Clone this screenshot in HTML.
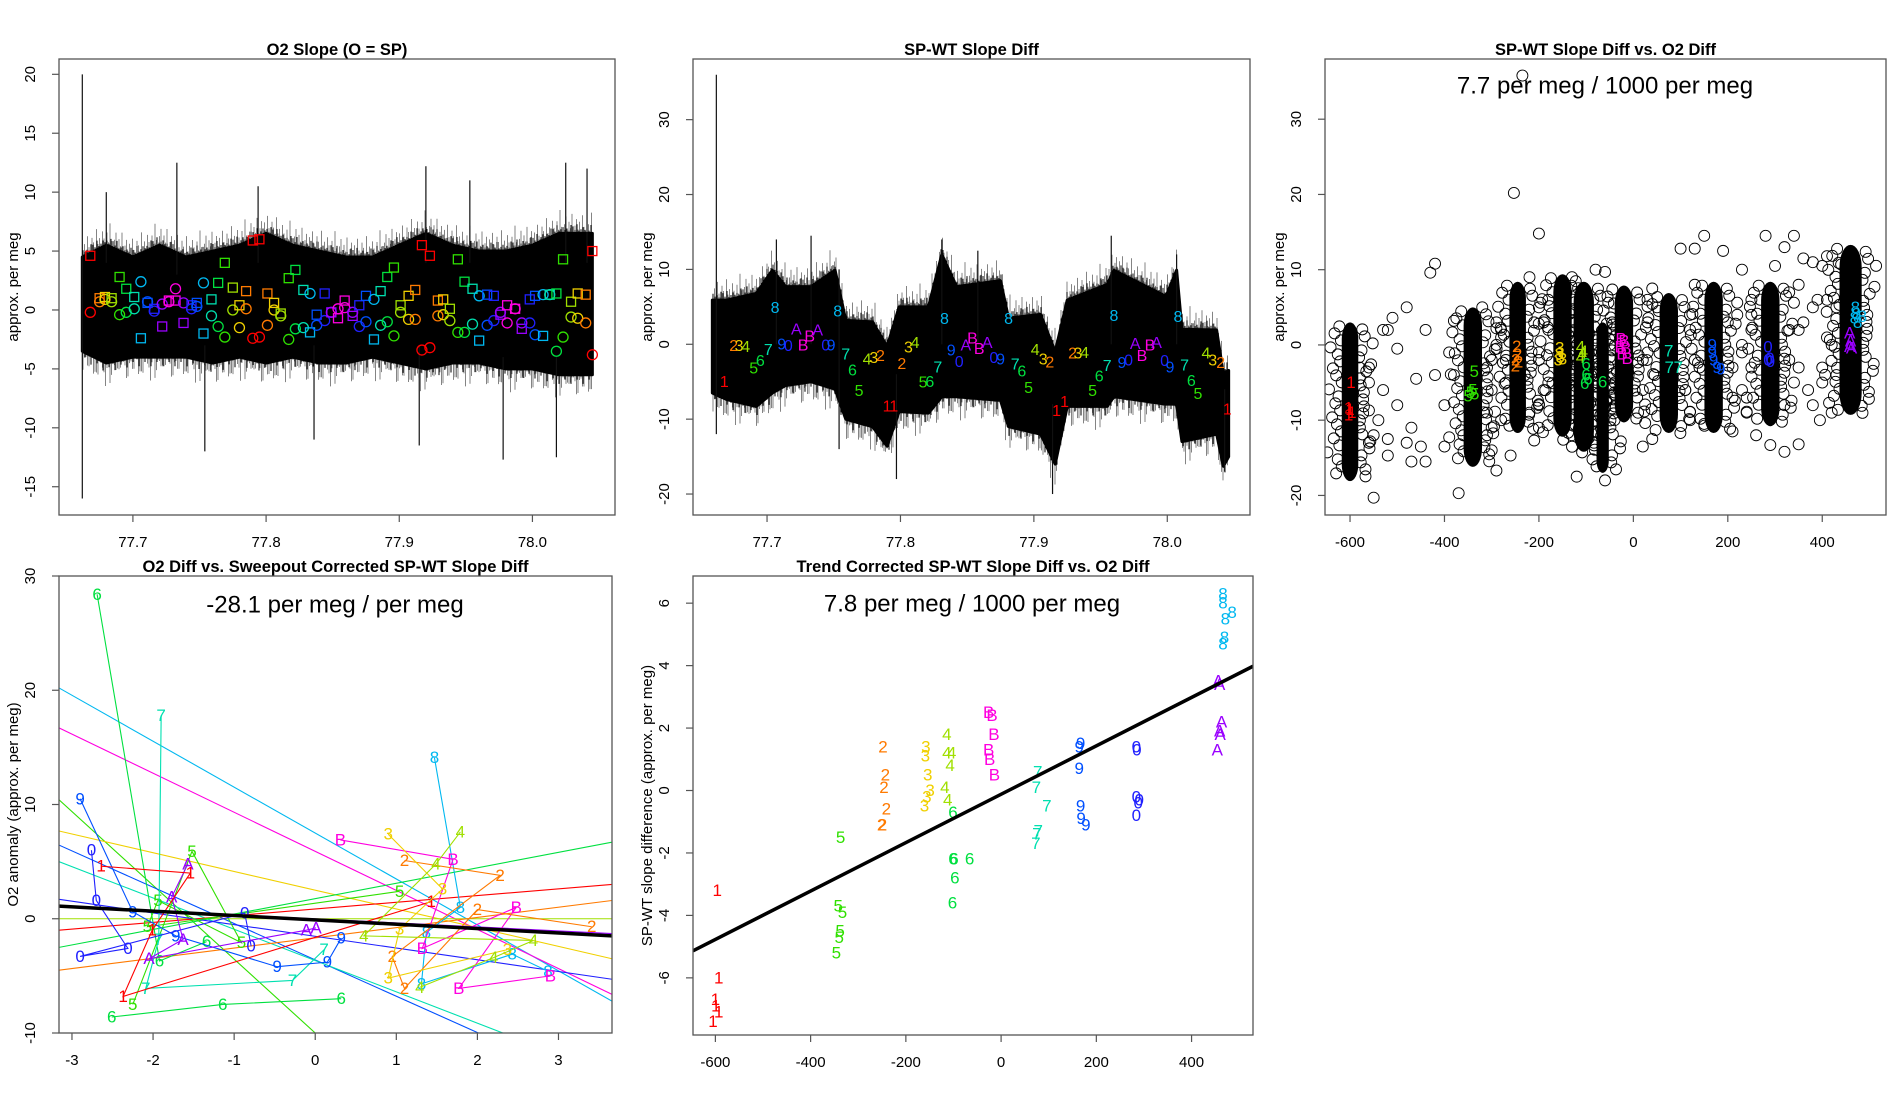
<!DOCTYPE html>
<html><head><meta charset="utf-8"><title>Slope diagnostics</title>
<style>
html,body{margin:0;padding:0;background:#fff;width:1900px;height:1100px;overflow:hidden;}
svg{display:block;font-family:"Liberation Sans",sans-serif;}
</style></head>
<body>
<svg id="chart" xmlns="http://www.w3.org/2000/svg" width="1900" height="1100" viewBox="0 0 1900 1100" overflow="hidden">
<rect x="0" y="0" width="1900" height="1100" fill="#fff"/>
</svg>
<script>
// ---------- shared data ----------
const labelSeq = ["1","2","3","4","5","6","7","8","9","0","A","B","B","A","0","9","8","7","6","5","4","3","2","1",
"1","2","3","4","5","6","7","8","9","0","A","B","B","A","0","9","8","7","6","5","4","3","2","1",
"1","2","3","4","5","6","7","8","9","0","A","B","B","A","0","9","8","7","6","5","4","3","2","1"];
const labelTimes = [77.668,77.675,77.679,77.684,77.690,77.695,77.701,77.706,77.711,77.716,77.722,77.727,77.732,77.738,77.744,77.748,77.753,77.759,77.764,77.769,77.775,77.780,77.785,77.790,
77.795,77.801,77.806,77.811,77.817,77.822,77.828,77.833,77.838,77.844,77.849,77.854,77.859,77.865,77.870,77.875,77.881,77.886,77.891,77.896,77.901,77.907,77.912,77.917,
77.923,77.929,77.933,77.938,77.944,77.949,77.955,77.960,77.966,77.971,77.976,77.981,77.987,77.992,77.998,78.002,78.008,78.013,78.018,78.023,78.029,78.034,78.040,78.045];
const sqValues = [4.6,1.0,1.1,1.0,2.8,1.8,1.1,-2.4,0.6,0.1,-1.4,0.8,0.8,-1.1,0.4,0.6,-2.0,0.9,2.3,4.0,1.9,0.4,1.6,5.9,
6.0,1.4,0.6,-0.3,2.7,3.4,1.7,-1.9,-0.4,1.4,-0.2,-0.7,0.8,-0.5,0.4,1.2,-2.5,1.6,2.8,3.6,0.4,1.2,1.7,5.5,
4.6,0.8,0.9,0.1,4.3,2.4,1.8,-2.6,1.3,1.2,-0.4,0.4,0.1,-1.6,0.9,1.2,-2.2,1.3,1.4,4.3,0.7,1.4,1.3,5.0];
const ciValues = [-0.2,0.7,0.9,0.7,-0.4,-0.2,0.1,2.4,0.7,-0.1,0.5,0.7,1.8,0.6,0.1,0.3,2.3,-0.5,-1.4,-2.3,0.0,-1.5,0.1,-2.4,
-2.3,-1.3,0.0,-0.5,-2.5,-1.6,-1.5,1.4,-1.3,-0.9,-0.2,0.1,0.2,-0.2,-1.4,-1.0,0.9,-1.3,-1.0,-2.2,-0.2,-0.8,-0.8,-3.4,
-3.2,-0.5,-0.4,-0.9,-1.9,-1.9,-1.2,1.2,-1.3,-0.9,-0.2,-1.1,0.1,-1.1,-1.1,-2.1,1.3,1.3,-3.5,-2.3,-0.6,-0.7,-1.1,-3.8];
const env1Times = [77.662,77.68,77.70,77.72,77.74,77.76,77.78,77.80,77.82,77.84,77.86,77.88,77.90,77.92,77.94,77.96,77.98,78.00,78.02,78.045];
const env1Top = [4.5,5.5,4.5,5.5,4.5,5,5.5,6.5,5.5,5,4.5,4.5,5.5,6.5,5.5,5,5,5.5,6.5,6.5];
const env1Bot = [-3.5,-4.5,-4,-4,-4,-4.5,-4,-4.5,-4,-4.5,-4.5,-4,-4.5,-5,-4.5,-4.5,-5,-5,-5.5,-5.5];
const spike1Times = [77.662,77.68,77.733,77.754,77.794,77.836,77.915,77.92,77.953,77.978,78.018,78.025,78.041];
const spike1Lo = [-16,4,3,-12,4,-11,-11.5,4,4,-12.7,-12.5,4,4];
const spike1Hi = [20,10,12.5,-3,10.5,-3,-3,12.2,11,-4,-4,12.5,12];
const label2Values = [-5.1,-0.3,-0.3,-0.4,-3.3,-2.3,-0.8,4.8,-0.1,-0.3,1.9,-0.2,1.0,1.8,-0.2,-0.2,4.3,-1.4,-3.6,-6.3,-2.1,-1.9,-1.6,-8.4,
-8.4,-2.7,-0.5,0.1,-5.2,-5.1,-3.2,3.3,-0.9,-2.4,-0.2,0.7,-0.7,0.1,-1.9,-2.1,3.3,-2.8,-3.7,-5.9,-0.8,-2.1,-2.5,-9.0,
-7.8,-1.3,-1.3,-1.2,-6.3,-4.4,-3.0,3.7,-2.6,-2.2,0.0,-1.6,-0.2,0.1,-2.3,-3.2,3.6,-2.9,-5.0,-6.7,-1.3,-2.2,-2.6,-8.8];
const env2Times = [77.659,77.670,77.692,77.704,77.714,77.733,77.751,77.759,77.779,77.790,77.799,77.821,77.831,77.842,77.875,77.881,77.905,77.916,77.925,77.955,77.960,77.999,78.007,78.011,78.037,78.042,78.046];
const env2Top = [5.9,5.9,6.8,9.9,7.7,7.7,9.9,3.2,3.0,-0.3,5.0,5.0,12.0,7.7,8.5,3.5,4.0,-1.0,5.9,8.0,9.9,6.4,9.9,2.0,1.9,-3.9,-3.5];
const env2Bot = [-6.5,-7.4,-8.3,-6.5,-5.5,-5.0,-6.0,-10,-11,-13.6,-9.0,-9.2,-7.0,-7.0,-7.5,-11,-12,-16,-8.3,-8.3,-7.0,-8.0,-8.0,-13,-12,-16.3,-15];
const spike2Times = [77.662,77.707,77.733,77.754,77.797,77.831,77.858,77.914,77.958,78.007,78.043];
const spike2Lo = [-12,0,0,-14,-18,0,0,-20,0,0,-17];
const spike2Hi = [36,14,14.5,10,-4,14,12.5,-8,14.5,12,-6];
const clusterX = [-600,-340,-245,-150,-105,-65,-20,75,170,290,460];
const clusterTop = [3.0,5.0,8.4,9.4,8.4,3.0,7.9,6.9,8.4,8.4,13.3];
const clusterBot = [-18.1,-16.2,-11.7,-12.2,-14.2,-17.0,-10.3,-11.7,-11.7,-10.8,-9.3];
const clusterSpread = [35,39,35,39,43,26,39,39,39,39,47];
const scatX = [-235,-253,-200,-420,-430,-480,-510,-520,-500,-440,-380,-460,-420,-500,-560,-520,-550,-480,-440,-470,-550,-370,-400,-390,-560,-580,-530,-520,-560,-450,-400,-300,-290,-260,-270,-310,-290,-320,-220,-200,-180,-120,-60,-80,-130,-210,-60,10,20,40,40,100,130,150,190,120,210,230,280,300,320,340,360,410,380,350,320,260,230,210,250,350,400,380,420,395,250,130,120,30,20,-30,-80,-180,-200,-280,-310,380,330,290,150,-40,440,400,-300,-280,-230,-200,-190,-130,-50,-10,30,50,110,140,230,250,330,350,370,390,410,430,240,200,
-300,-290,-310,-280,-270,-300,-200,-210,-190,-220,-180,-200,-130,-125,-80,-85,-40,-45,20,30,45,110,120,130,210,220,230,240,250,320,330,340,350,360,400,410,420,430,-560,-540,-530,-470,-380,-360];
const scatY = [35.8,20.2,14.8,10.8,9.6,5,3.6,2,-0.5,2,3.2,-4.5,-4,-8,-8.7,-12.5,-12,-13,-15.5,-15.5,-20.3,-19.7,-8,-1,-3,-3,-6,-14.7,-13,-13.5,-13.5,-14,-16.7,-14.7,-5,-3,3,5,9,5,2,-17.5,-18,10,9,-12.7,9.7,-9,-13.5,-12.5,7.5,12.8,12.8,14.5,12.5,-10,-11.5,10,14.5,10.5,13,14.5,11.5,11.8,5,-13.2,-14.2,-12,-6,-3,-3,-3,-5,-8,-9,-10,2,-2,4,3,-2,-6,-4,-5,-8,-10,-12,11,7,-13.3,-10.5,-10,10.7,10.5,-2,1,-4,-1,3,-6,0,-4,-1,5,-6,-3,-1,4,-2,2,-6,6,1,-4,-7,3,
-6,0,-9,2,-2,-11,-2,3,-6,-9,6,-11,-4,3,-8,6,-5,3,-6,6,-4,-6,2,8,-7,4,0,-9,6,-8,2,-5,8,3,-3,6,0,5,-5,-10,2,-11,-4,-12];
const lab3X = [-598,-603,-600,-596,-603,-337,-340,-345,-336,-350,-247,-245,-249,-250,-243,-156,-157,-155,-159,-150,-112,-106,-112,-108,-100,-100,-103,-96,-65,-26,-20,-28,-16,-13,-24,75,76,95,167,167,170,177,185,285,289,285,290,458,460,462,458,470,472,468,475,485];
const lab3Y = [-5,-8.4,-8.6,-9,-9.3,-3.5,-6,-6.3,-6.5,-6.8,-0.2,-1.3,-2,-2.8,-2.3,-0.4,-1.2,-1.6,-2,-1.9,-0.3,-0.9,-1.7,-1.2,-2.5,-4,-5.1,-4.5,-4.9,0.8,0.5,-0.3,-0.5,-1.8,-1.2,-0.8,-3,-3,0,-1,-2,-3,-3.2,-0.3,-1.8,-2,-2.2,1.6,0.5,-0.4,-0.2,5,4.1,3.6,3,3.8];
const lab3Text = ["1","1","1","1","1","5","5","5","5","5","2","2","2","2","2","3","3","3","3","3","4","4","4","4","6","6","6","6","6","B","B","B","B","B","B","7","7","7","9","9","9","9","9","0","0","0","0","A","A","A","A","8","8","8","8","8"];
const regSlopes = [-4.02,-3.42,-6.46,-1.64,-3.18,-2.74,0,1.35,0.587,0.894,-1.026,-0.352];
const regIntercepts = [7.5,5.9,-10,2.5,-3.6,-3.66,0,1.76,0.855,-1.675,-1.54,-0.01];
const regGroups = ["8","B","5","3","9","7","4","6","1","2","0","A"];
const fitSlope4 = -0.381, fitIntercept4 = -0.1;
const grpNames = ["6","6b","5","7","9","0","A","1","8","B","2","3","4"];
const grpX = [[-2.69,-1.92,-1.34],[-2.51,-1.14,0.32],[-2.25,-1.52,-0.91,-1.94,-2.07,1.04],[-1.9,-1.93,-2.09,-0.28,0.11],[-2.9,-2.25,-1.72,-0.47,0.15,0.32],[-2.76,-2.7,-2.31,-2.9,-0.87,-0.79],[-1.57,-1.77,-1.63,-2.05,-0.11,0.01],[-2.64,-1.54,-2.01,-2.37,1.43],[1.47,1.79,1.37,1.31,2.43,2.87],[0.31,1.7,1.32,2.48,1.77,2.9],[1.1,2.28,0.95,1.1,2.0,3.41],[0.9,1.57,1.04,0.9,2.37],[1.79,1.49,0.6,2.69,2.2,1.29]];
const grpY = [[28.4,-3.7,-2.0],[-8.6,-7.5,-7.0],[-7.5,5.9,-2.1,1.6,-0.7,2.4],[17.8,-1.8,-6.1,-5.4,-2.7],[10.5,0.6,-1.5,-4.2,-3.8,-1.7],[6.0,1.6,-2.6,-3.3,0.5,-2.4],[4.8,1.9,-1.8,-3.5,-1.0,-0.8],[4.6,4.0,-1.0,-6.8,1.5],[14.1,1.0,-1.2,-5.7,-3.1,-4.6],[6.9,5.2,-2.6,1.0,-6.1,-5.0],[5.1,3.8,-3.3,-6.1,0.8,-0.7],[7.4,2.6,-0.9,-5.2,-2.7],[7.6,4.8,-1.5,-1.9,-3.4,-6.0]];
const p5X = [-596,-593,-600,-599,-593,-605,-337,-342,-333,-338,-340,-346,-248,-243,-246,-241,-251,-249,-158,-159,-154,-149,-156,-161,-114,-114,-104,-107,-118,-112,-101,-99,-101,-66,-97,-102,-26,-19,-15,-26,-24,-14,77,74,96,78,75,73,167,164,164,167,168,178,284,285,284,290,288,284,456,459,463,459,460,454,466,466,485,471,469,466];
const p5Y = [-3.2,-6.0,-6.7,-6.9,-7.1,-7.4,-1.5,-3.7,-3.9,-4.5,-4.7,-5.2,1.4,0.5,0.1,-0.6,-1.1,-1.1,1.4,1.1,0.5,0,-0.2,-0.5,1.8,1.2,1.2,0.8,0.1,-0.3,-0.7,-2.2,-2.2,-2.2,-2.8,-3.6,2.5,2.4,1.8,1.3,1.0,0.5,0.6,0.1,-0.5,-1.3,-1.4,-1.7,1.5,1.4,0.7,-0.5,-0.9,-1.1,1.4,1.3,-0.2,-0.3,-0.4,-0.8,3.5,3.4,2.2,1.9,1.8,1.3,6.3,6.0,5.7,5.5,4.9,4.7];
const p5Lab = ["1","1","1","1","1","1","5","5","5","5","5","5","2","2","2","2","2","2","3","3","3","3","3","3","4","4","4","4","4","4","6","6","6","6","6","6","B","B","B","B","B","B","7","7","7","7","7","7","9","9","9","9","9","9","0","0","0","0","0","0","A","A","A","A","A","A","8","8","8","8","8","8"];
const fitSlope5 = 0.00775, fitIntercept5 = -0.12;
const ticksTimeX = [77.7,77.8,77.9,78.0];
const tickLabelsTimeX = ["77.7","77.8","77.9","78.0"];
const ticksY1 = [-15,-10,-5,0,5,10,15,20];
const ticksY2 = [-20,-10,0,10,20,30];
const ticksO2X = [-600,-400,-200,0,200,400];
const ticksX4 = [-3,-2,-1,0,1,2,3];
const ticksY4 = [-10,0,10,20,30];
const ticksY5 = [-6,-4,-2,0,2,4,6];

const COLORS = {"1":"#FF0000","2":"#FF7A00","3":"#F0D000","4":"#A0E000","5":"#30E000","6":"#00E040","6b":"#00E040","7":"#00E0B0","8":"#00B8F0","9":"#0050FF","0":"#2020FF","A":"#9A00FF","B":"#FF00E0"};
// fixed texture pattern (pixels) for ragged noise edges — styling only
const TEX = [3,9,1,14,5,2,11,7,0,16,4,8,2,12,6,1,10,3,18,5,0,7,13,2,9,4,15,1,6,11];

const NS = "http://www.w3.org/2000/svg";
const root = document.getElementById("chart");
function mk(parent, tag, attrs, name) {
  const el = document.createElementNS(NS, tag);
  for (const k in attrs) el.setAttribute(k, attrs[k]);
  
  
  parent.appendChild(el);
  return el;
}
function scale(d0, d1, r0, r1) { return v => r0 + (v - d0) / (d1 - d0) * (r1 - r0); }
function interp(ts, vs, t) {
  if (t <= ts[0]) return vs[0];
  for (let i = 1; i < ts.length; i++) if (t <= ts[i]) { const f = (t - ts[i-1]) / (ts[i] - ts[i-1]); return vs[i-1] + f * (vs[i] - vs[i-1]); }
  return vs[vs.length-1];
}
function panel(id, box, xd, yd, title, titleY) {
  const g = mk(root, "g", {}, id + "-panel");
  const cp = mk(g, "clipPath", {id: id + "-clip"}, id + "-clip");
  mk(cp, "rect", {x: box[0], y: box[1], width: box[2]-box[0], height: box[3]-box[1]}, id + "-clip-rect");
  const plot = mk(g, "g", {"clip-path": "url(#" + id + "-clip)"}, id + "-plot-area");
  const t = mk(g, "text", {x: (box[0]+box[2])/2, y: titleY, "text-anchor": "middle", "font-size": "16.5", "font-weight": "bold"}, id + "-title");
  t.textContent = title;
  return {g, plot, box, xd, yd, x: scale(xd[0], xd[1], box[0], box[2]), y: scale(yd[0], yd[1], box[3], box[1]), xi: scale(box[0], box[2], xd[0], xd[1])};
}
function axes(P, id, xt, xl, yt, ylab) {
  const b = P.box;
  mk(P.g, "rect", {x: b[0], y: b[1], width: b[2]-b[0], height: b[3]-b[1], fill: "none", stroke: "#555", "stroke-width": 1.3}, id + "-frame");
  xt.forEach((v, i) => {
    const px = P.x(v);
    mk(P.g, "line", {x1: px, x2: px, y1: b[3], y2: b[3]+7, stroke: "#555", "stroke-width": 1.2}, id + "-x-tick");
    const tx = mk(P.g, "text", {x: px, y: b[3]+32, "text-anchor": "middle", "font-size": "15"}, id + "-x-tick-label");
    tx.textContent = xl[i];
  });
  yt.forEach(v => {
    const py = P.y(v);
    mk(P.g, "line", {x1: b[0], x2: b[0]-7, y1: py, y2: py, stroke: "#555", "stroke-width": 1.2}, id + "-y-tick");
    const tx = mk(P.g, "text", {x: 0, y: 0, "text-anchor": "middle", "font-size": "15", transform: "translate(" + (b[0]-24) + "," + py + ") rotate(-90)"}, id + "-y-tick-label");
    tx.textContent = String(v);
  });
  const yl = mk(P.g, "text", {x: 0, y: 0, "text-anchor": "middle", "font-size": "15", transform: "translate(" + (b[0]-41) + "," + ((b[1]+b[3])/2) + ") rotate(-90)"}, id + "-y-axis-title");
  yl.textContent = ylab;
}
// clip an abline to the panel's data rectangle, returns [xa,ya,xb,yb]
function clipLine(P, a, s) {
  let xa = P.xd[0], xb = P.xd[1];
  const y0 = P.yd[0], y1 = P.yd[1];
  if (s !== 0) {
    const xl = (y0 - a) / s, xh = (y1 - a) / s;
    const lo = Math.min(xl, xh), hi = Math.max(xl, xh);
    xa = Math.max(xa, lo); xb = Math.min(xb, hi);
  }
  return [xa, a + s*xa, xb, a + s*xb];
}
function envelope(P, ts, top, bot, name) {
  const x0 = Math.ceil(P.x(ts[0])), x1 = Math.floor(P.x(ts[ts.length-1]));
  let d = "";
  for (let px = x0, k = 0; px <= x1; px += 1.5, k++) {
    const t = P.xi(px);
    const yt = P.y(interp(ts, top, t)) - TEX[k % TEX.length] * 1.3;
    const yb = P.y(interp(ts, bot, t)) + TEX[(k * 7 + 3) % TEX.length] * 1.3;
    d += "M" + px + "," + yt + "V" + yb;
  }
  mk(P.plot, "path", {d: d, fill: "none", stroke: "#777", "stroke-width": 0.9}, name + "-fringe");
  let p = "";
  ts.forEach((t, i) => { p += (i ? "L" : "M") + P.x(t) + "," + P.y(top[i]); });
  for (let i = ts.length - 1; i >= 0; i--) p += "L" + P.x(ts[i]) + "," + P.y(bot[i]);
  p += "Z";
  mk(P.plot, "path", {d: p, fill: "#000", stroke: "#000", "stroke-width": 3, "stroke-linejoin": "round"}, name);
  let d2 = "";
  for (let px = x0, k = 0; px <= x1; px += 2, k++) {
    const t = P.xi(px);
    const yt = P.y(interp(ts, top, t)) - TEX[(k * 3 + 1) % TEX.length] * 0.7;
    const yb = P.y(interp(ts, bot, t)) + TEX[(k * 5 + 2) % TEX.length] * 0.7;
    d2 += "M" + px + "," + yt + "V" + yb;
  }
  mk(P.plot, "path", {d: d2, fill: "none", stroke: "#000", "stroke-width": 1}, name + "-core-texture");
}
function spikes(P, ts, lo, hi, name) {
  ts.forEach((t, i) => {
    mk(P.plot, "line", {x1: P.x(t), x2: P.x(t), y1: P.y(lo[i]), y2: P.y(hi[i]), stroke: "#111", "stroke-width": 1.2}, name);
  });
}
function label(parent, x, y, txt, size, color, name) {
  const el = mk(parent, "text", {x: x, y: y, "text-anchor": "middle", "dominant-baseline": "central", "font-size": size, fill: color}, name);
  el.textContent = txt;
  return el;
}

const tDom = [77.6445, 78.062];
// ----- Panel 1 -----
const P1 = panel("o2-slope", [59, 59, 615, 515], tDom, [-17.4, 21.3], "O2 Slope (O = SP)", 55);
envelope(P1, env1Times, env1Top, env1Bot, "o2-slope-noise-band");
spikes(P1, spike1Times, spike1Lo, spike1Hi, "o2-slope-spike");
labelTimes.forEach((t, i) => {
  const c = COLORS[labelSeq[i]];
  mk(P1.plot, "rect", {x: P1.x(t)-4.5, y: P1.y(sqValues[i])-4.5, width: 9, height: 9, fill: "none", stroke: c, "stroke-width": 1.3}, "sp-square-marker");
  mk(P1.plot, "circle", {cx: P1.x(t), cy: P1.y(ciValues[i]), r: 5, fill: "none", stroke: c, "stroke-width": 1.3}, "sp-circle-marker");
});
axes(P1, "o2-slope", ticksTimeX, tickLabelsTimeX, ticksY1, "approx. per meg");

// ----- Panel 2 -----
const P2 = panel("spwt-diff", [693, 59, 1250, 515], tDom, [-22.8, 38.1], "SP-WT Slope Diff", 55);
envelope(P2, env2Times, env2Top, env2Bot, "spwt-diff-noise-band");
spikes(P2, spike2Times, spike2Lo, spike2Hi, "spwt-diff-spike");
labelTimes.forEach((t, i) => {
  label(P2.plot, P2.x(t), P2.y(label2Values[i]), labelSeq[i], 16, COLORS[labelSeq[i]], "spwt-diff-cycle-label");
});
axes(P2, "spwt-diff", ticksTimeX, tickLabelsTimeX, ticksY2, "approx. per meg");

// ----- Panel 3 -----
const P3 = panel("diff-vs-o2", [1325, 59, 1886, 515], [-653, 535], [-22.6, 38.0], "SP-WT Slope Diff vs. O2 Diff", 55);
scatX.forEach((x, i) => {
  mk(P3.plot, "circle", {cx: P3.x(x), cy: P3.y(scatY[i]), r: 5.5, fill: "none", stroke: "#000", "stroke-width": 0.9}, "scatter-point");
});
clusterX.forEach((cx, i) => {
  const x0 = P3.x(cx - clusterSpread[i]/2), x1 = P3.x(cx + clusterSpread[i]/2);
  const y0 = P3.y(clusterTop[i]), y1 = P3.y(clusterBot[i]);
  const w = x1 - x0;
  mk(P3.plot, "rect", {x: x0, y: y0, width: w, height: y1 - y0, rx: w/2, ry: w, fill: "#000"}, "scatter-cluster");
  let k = 0;
  for (let yy = y0 + 4; yy < y1 - 2; yy += 7, k++) {
    mk(P3.plot, "circle", {cx: x0 - TEX[k % TEX.length] * 0.8, cy: yy, r: 5.5, fill: "none", stroke: "#000", "stroke-width": 0.9}, "cluster-edge-point");
    mk(P3.plot, "circle", {cx: x1 + TEX[(k * 7 + 4) % TEX.length] * 0.8, cy: yy + 3, r: 5.5, fill: "none", stroke: "#000", "stroke-width": 0.9}, "cluster-edge-point");
  }
});
lab3X.forEach((x, i) => {
  label(P3.plot, P3.x(x), P3.y(lab3Y[i]), lab3Text[i], 17, COLORS[lab3Text[i]], "cluster-label");
});
label(P3.g, 1605, 86, "7.7 per meg / 1000 per meg", 24, "#000", "slope-annotation");
axes(P3, "diff-vs-o2", ticksO2X, ticksO2X.map(String), ticksY2, "approx. per meg");

// ----- Panel 4 -----
const P4 = panel("o2-vs-sweepout", [59, 576, 612, 1033], [-3.16, 3.66], [-10, 30], "O2 Diff vs. Sweepout Corrected SP-WT Slope Diff", 572);
regSlopes.forEach((s, i) => {
  const c = clipLine(P4, regIntercepts[i], s);
  mk(P4.plot, "line", {x1: P4.x(c[0]), y1: P4.y(c[1]), x2: P4.x(c[2]), y2: P4.y(c[3]), stroke: COLORS[regGroups[i]], "stroke-width": 1.1}, "group-regression-line");
});
grpNames.forEach((n, gi) => {
  const xs = grpX[gi], ys = grpY[gi];
  const pts = xs.map((x, j) => P4.x(x) + "," + P4.y(ys[j])).join(" ");
  mk(P4.plot, "polyline", {points: pts, fill: "none", stroke: COLORS[n], "stroke-width": 1.1}, "group-trajectory");
  xs.forEach((x, j) => {
    label(P4.plot, P4.x(x), P4.y(ys[j]), n === "6b" ? "6" : n, 17, COLORS[n], "trajectory-label");
  });
});
const c4 = clipLine(P4, fitIntercept4, fitSlope4);
mk(P4.plot, "line", {x1: P4.x(c4[0]), y1: P4.y(c4[1]), x2: P4.x(c4[2]), y2: P4.y(c4[3]), stroke: "#000", "stroke-width": 3.5}, "overall-fit-line");
label(P4.g, 335, 605, "-28.1 per meg / per meg", 24, "#000", "slope-annotation");
axes(P4, "o2-vs-sweepout", ticksX4, ticksX4.map(String), ticksY4, "O2 anomaly (approx. per meg)");

// ----- Panel 5 -----
const P5 = panel("trend-corrected", [693, 576, 1253, 1035], [-647, 529], [-7.83, 6.87], "Trend Corrected SP-WT Slope Diff vs. O2 Diff", 572);
p5X.forEach((x, i) => {
  label(P5.plot, P5.x(x), P5.y(p5Y[i]), p5Lab[i], 17, COLORS[p5Lab[i]], "group-point-label");
});
const c5 = clipLine(P5, fitIntercept5, fitSlope5);
mk(P5.plot, "line", {x1: P5.x(c5[0]), y1: P5.y(c5[1]), x2: P5.x(c5[2]), y2: P5.y(c5[3]), stroke: "#000", "stroke-width": 3.5}, "regression-line");
label(P5.g, 972, 604, "7.8 per meg / 1000 per meg", 24, "#000", "slope-annotation");
axes(P5, "trend-corrected", ticksO2X, ticksO2X.map(String), ticksY5, "SP-WT slope difference (approx. per meg)");
</script>
</body></html>
